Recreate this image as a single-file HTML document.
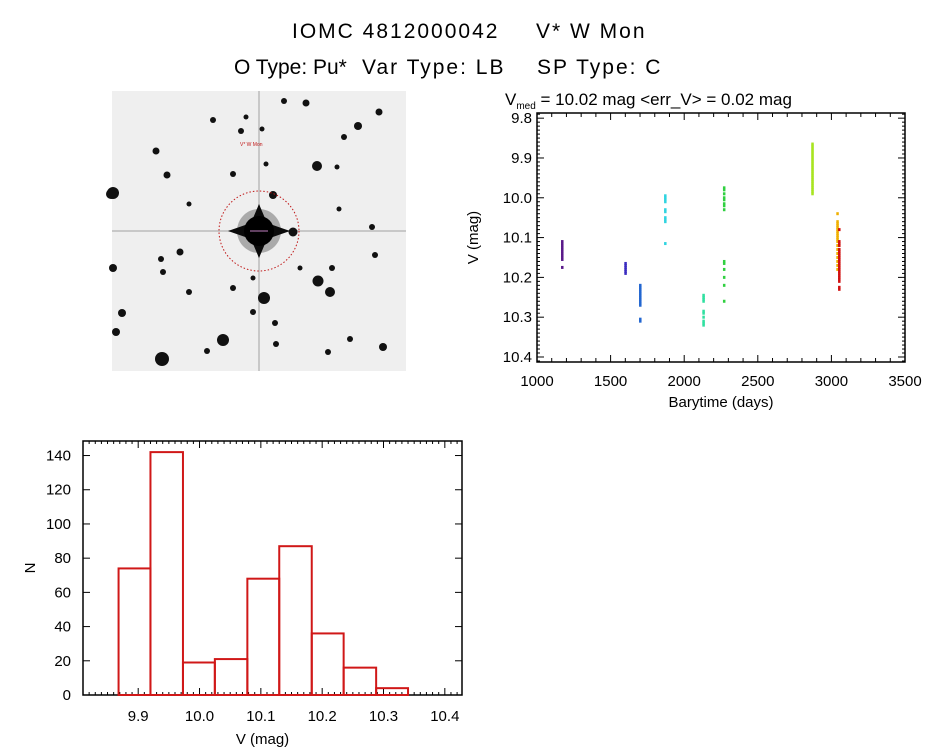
<!DOCTYPE html>
<html><head><meta charset="utf-8">
<style>
html,body{margin:0;padding:0;background:#fff;}
svg{display:block;font-family:"Liberation Sans",sans-serif;}
</style></head>
<body>
<svg id="fig" width="944" height="747" viewBox="0 0 944 747" xmlns="http://www.w3.org/2000/svg">
<rect width="944" height="747" fill="#fff"/>
<g font-size="21">
<text x="292" y="38" letter-spacing="2">IOMC 4812000042</text>
<text x="536" y="38" letter-spacing="2">V* W Mon</text>
</g>
<g font-size="21">
<text x="234" y="74">O Type: Pu*</text>
<text x="362" y="74" letter-spacing="2">Var Type: LB</text>
<text x="537" y="74" letter-spacing="2">SP Type: C</text>
</g>

<g id="img">
<rect x="112" y="91" width="294" height="280" fill="#efefef"/>
</g>

<g id="lc"></g>
<g id="hist"></g>
</svg>
<script>
// ---------- light curve data ----------
const lcGroups = ["g1","g2","g3","g4","g5","g6","g7","g8","g9"];
const lcTimes = [1170,1600,1700,1870,2130,2270,2870,3040,3052];
const lcColors = ["#5a1a8a","#3a2cc0","#2266d0","#30d4e0","#30e0a0","#30d040","#a8e420","#f0b000","#d01010"];
const g1 = [10.11,10.115,10.12,10.125,10.13,10.135,10.14,10.145,10.15,10.155,10.175];
const g2 = [10.165,10.17,10.175,10.18,10.185,10.19];
const g3 = [10.22,10.225,10.23,10.235,10.24,10.245,10.25,10.255,10.26,10.265,10.27,10.305,10.31];
const g4 = [9.995,10.0,10.005,10.01,10.03,10.035,10.05,10.055,10.06,10.115];
const g5 = [10.245,10.25,10.255,10.26,10.285,10.29,10.3,10.31,10.315,10.32];
const g6 = [9.975,9.98,9.99,10.0,10.005,10.015,10.02,10.03,10.16,10.165,10.18,10.2,10.22,10.26];
const g7 = [9.865,9.87,9.875,9.88,9.885,9.89,9.895,9.9,9.905,9.91,9.915,9.92,9.925,9.93,9.935,9.94,9.945,9.95,9.955,9.96,9.965,9.97,9.975,9.98,9.985,9.99];
const g8 = [10.04,10.06,10.065,10.07,10.075,10.08,10.085,10.09,10.095,10.1,10.105,10.11,10.12,10.13,10.14,10.15,10.16,10.17,10.18];
const g9 = [10.08,10.11,10.115,10.12,10.13,10.135,10.14,10.145,10.15,10.155,10.16,10.165,10.17,10.175,10.18,10.185,10.19,10.195,10.2,10.205,10.21,10.225,10.23];
const lcValues = [g1,g2,g3,g4,g5,g6,g7,g8,g9];
const lcXTicks = [1000,1500,2000,2500,3000,3500];
const lcYTicks = ["9.8","9.9","10.0","10.1","10.2","10.3","10.4"];

// ---------- histogram data ----------
const histEdges = [9.868,9.920,9.973,10.025,10.078,10.130,10.183,10.235,10.288,10.340];
const histCounts = [74,142,19,21,68,87,36,16,4];
const histXTicks = ["9.9","10.0","10.1","10.2","10.3","10.4"];
const histYTicks = [0,20,40,60,80,100,120,140];

// ---------- star field ----------
const stars = [[213,120,3],[246,117,2.5],[241,131,3],[262,129,2.5],[284,101,3],[306,103,3.5],[358,126,4],[379,112,3.5],[344,137,3],
[156,151,3.5],[167,175,3.5],[233,174,3],[266,164,2.5],[317,166,5],[337,167,2.5],[113,193,6],[273,195,4],[189,204,2.5],[339,209,2.5],
[372,227,3],[293,232,4.5],[180,252,3.5],[161,259,3],[113,268,4],[163,272,3],[375,255,3],[300,268,2.5],[332,268,3],[253,278,2.5],
[318,281,5.5],[330,292,5],[233,288,3],[189,292,3],[264,298,6],[253,312,3],[122,313,4],[275,323,3],[116,332,4],[223,340,6],
[276,344,3],[207,351,3],[162,359,7],[328,352,3],[383,347,4],[350,339,3],[111,194,5]];

const NS="http://www.w3.org/2000/svg";
function mk(tag, attrs, parent){const e=document.createElementNS(NS,tag);for(const k in attrs)e.setAttribute(k,attrs[k]);parent.appendChild(e);return e;}

// star field
const img=document.getElementById('img');
mk('rect',{x:112,y:230,width:294,height:2,fill:'#999',opacity:0.45},img);
mk('rect',{x:258,y:91,width:2,height:280,fill:'#999',opacity:0.45},img);
for(const s of stars){
  const c=mk('circle',{cx:s[0],cy:s[1],r:s[2],fill:'#111'},img);
  
  
}
mk('circle',{cx:259,cy:231,r:22,fill:'#666',opacity:0.5},img);
const ms=mk('polygon',{points:'259,204 267,223 290,231 267,239 259,258 251,239 228,231 251,223',fill:'#0a0a0a'},img);


mk('circle',{cx:259,cy:231,r:15,fill:'#000'},img);
const tc=mk('circle',{cx:259,cy:231,r:40,fill:'none',stroke:'#c01818','stroke-width':1,'stroke-dasharray':'1.5 2'},img);


mk('line',{x1:250,y1:231,x2:268,y2:231,stroke:'#c080c0','stroke-width':1},img);
const lbl=mk('text',{x:240,y:146,'font-size':5,fill:'#c01818'},img);lbl.textContent='V* W Mon';



// ---------- light curve ----------
const lc=document.getElementById('lc');
const L={x0:537,x1:905,y0:113,y1:362};
const xmin=1000,xmax=3500, ymin=9.787, ymax=10.4126;
const lx=v=>L.x0+(v-xmin)/(xmax-xmin)*(L.x1-L.x0);
const ly=v=>L.y0+(v-ymin)/(ymax-ymin)*(L.y1-L.y0);
mk('rect',{x:L.x0,y:L.y0,width:L.x1-L.x0,height:L.y1-L.y0,fill:'none',stroke:'#000','stroke-width':1.5},lc);
for(let t=1000;t<=3500;t+=100){
  const major=t%500===0, x=lx(t);
  mk('line',{x1:x,y1:L.y1,x2:x,y2:L.y1-(major?7:4),stroke:'#000'},lc);
  mk('line',{x1:x,y1:L.y0,x2:x,y2:L.y0+(major?7:4),stroke:'#000'},lc);
}
for(const t of lcXTicks){
  const e=mk('text',{x:lx(t),y:L.y1+24,'font-size':15,'text-anchor':'middle'},lc);e.textContent=t;
  
  
}
for(let i=979;i<=1041;i++){
  const v=i/100, y=ly(v), major=i%10===0;
  mk('line',{x1:L.x0,y1:y,x2:L.x0+(major?7:3),y2:y,stroke:'#000'},lc);
  mk('line',{x1:L.x1,y1:y,x2:L.x1-(major?7:3),y2:y,stroke:'#000'},lc);
}
for(const s of lcYTicks){
  const e=mk('text',{x:L.x0-5,y:ly(parseFloat(s))+5,'font-size':15,'text-anchor':'end'},lc);e.textContent=s;
  
  
}
let xt=mk('text',{x:(L.x0+L.x1)/2,y:L.y1+45,'font-size':15,'text-anchor':'middle'},lc);xt.textContent='Barytime (days)';


let yt=mk('text',{x:0,y:0,'font-size':15,'text-anchor':'middle',transform:`translate(478,${(L.y0+L.y1)/2}) rotate(-90)`},lc);yt.textContent='V (mag)';


let lt=mk('text',{x:505,y:105,'font-size':17},lc);
lt.innerHTML='V<tspan font-size="10" dy="4">med</tspan><tspan dy="-4"> = 10.02 mag &lt;err_V&gt; = 0.02 mag</tspan>';


lcValues.forEach((arr,gi)=>{
  const g=mk('g',{},lc);
  
  
  arr.forEach(v=>{
    const p=mk('rect',{x:lx(lcTimes[gi])-1,y:ly(v)-1.5,width:2.5,height:3,fill:lcColors[gi]},g);
    
    
  });
});

// ---------- histogram ----------
const hs=document.getElementById('hist');
const H={x0:83,x1:462,y0:441,y1:695};
const hxmin=9.81,hxmax=10.428,hymax=148.5;
const hx=v=>H.x0+(v-hxmin)/(hxmax-hxmin)*(H.x1-H.x0);
const hy=v=>H.y1-v/hymax*(H.y1-H.y0);
mk('rect',{x:H.x0,y:H.y0,width:H.x1-H.x0,height:H.y1-H.y0,fill:'none',stroke:'#000','stroke-width':1.5},hs);
for(let i=982;i<=1042;i++){
  const x=hx(i/100), major=i%10===0;
  mk('line',{x1:x,y1:H.y1,x2:x,y2:H.y1-(major?7:3),stroke:'#000'},hs);
  mk('line',{x1:x,y1:H.y0,x2:x,y2:H.y0+(major?7:3),stroke:'#000'},hs);
}
for(const s of histXTicks){
  const e=mk('text',{x:hx(parseFloat(s)),y:H.y1+26,'font-size':15,'text-anchor':'middle'},hs);e.textContent=s;
  
  
}
for(const v of histYTicks){
  const y=hy(v);
  mk('line',{x1:H.x0,y1:y,x2:H.x0+7,y2:y,stroke:'#000'},hs);
  mk('line',{x1:H.x1,y1:y,x2:H.x1-7,y2:y,stroke:'#000'},hs);
  const e=mk('text',{x:H.x0-12,y:y+5,'font-size':15,'text-anchor':'end'},hs);e.textContent=v;
  
  
}
histCounts.forEach((c,i)=>{
  const x0=hx(histEdges[i]),x1=hx(histEdges[i+1]);
  const b=mk('rect',{x:x0,y:hy(c),width:x1-x0,height:H.y1-hy(c),fill:'none',stroke:'#d01818','stroke-width':2},hs);
  
  
});
let hxt=mk('text',{x:(H.x0+H.x1)/2-10,y:744,'font-size':15,'text-anchor':'middle'},hs);hxt.textContent='V (mag)';


let hyt=mk('text',{x:0,y:0,'font-size':15,'text-anchor':'middle',transform:`translate(35,${(H.y0+H.y1)/2}) rotate(-90)`},hs);hyt.textContent='N';


</script>
</body></html>
